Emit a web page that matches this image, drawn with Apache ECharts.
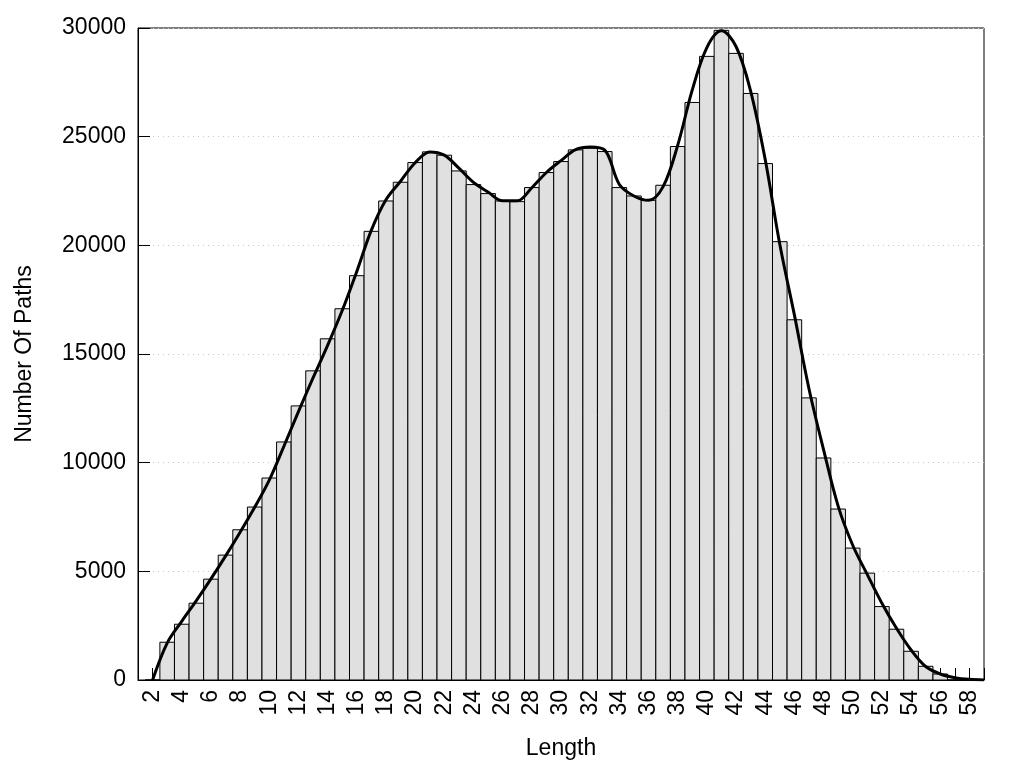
<!DOCTYPE html>
<html>
<head>
<meta charset="utf-8">
<script src="https://cdn.jsdelivr.net/npm/echarts@6/dist/echarts.min.js"></script>
<style>
  html, body { margin: 0; padding: 0; background: #fff; }
  #chart { width: 1024px; height: 768px; }
</style>
</head>
<body>
<div id="chart"></div>
<script>
// Path lengths (x) and histogram counts
const lengths = [2,3,4,5,6,7,8,9,10,11,12,13,14,15,16,17,18,19,20,21,22,23,24,25,26,27,28,29,30,
  31,32,33,34,35,36,37,38,39,40,41,42,43,44,45,46,47,48,49,50,51,52,53,54,55,56,57,58];
const counts = [0,1737,2566,3534,4640,5746,6912,7958,9294,10953,12612,14225,15699,17082,18603,20644,22041,22902,23809,
  24300,24146,23424,22795,22381,22041,22010,22658,23349,23855,24392,24468,24315,22658,22272,22072,22764,24547,26574,
  28694,29892,28832,26989,23763,20169,16575,12981,10216,7866,6069,4917,3378,2336,1322,631,276,0,0];

// Smoothed density curve, read at integer lengths
const curveX = [2,3,4,5,6,7,8,9,10,11,12,13,14,15,16,17,18,19,20,21,22,23,24,25,26,27,28,29,30,
  31,32,33,34,35,36,37,38,39,40,41,42,43,44,45,46,47,48,49,50,51,52,53,54,55,56,57,58,59];
const curveY = [0,1700,2700,3650,4650,5700,6800,7950,9200,10750,12350,13900,15400,17000,18800,20700,22100,22950,23800,
  24300,24150,23550,22900,22450,22050,22050,22650,23350,23900,24400,24520,24380,22800,22270,22070,22700,24600,27150,
  29100,29870,29150,27100,23950,20050,16800,13400,10600,8000,6200,4850,3530,2380,1380,620,276,107,30,5];

const yTicks = { min: 0, max: 30000, step: 5000 };
const xRange = { min: 1, max: 59 };

const chart = echarts.init(document.getElementById('chart'), null, { renderer: 'canvas' });
const font = 'Liberation Sans, Arial, Helvetica, sans-serif';

const barData = lengths.map((x, i) => [x, counts[i]]);
const lineData = curveX.map((x, i) => [x, curveY[i]]);

chart.setOption({
  animation: false,
  backgroundColor: '#fff',
  grid: {
    left: 138, right: 40, top: 28, bottom: 88,
    show: true, borderColor: '#000', borderWidth: 1, backgroundColor: 'transparent'
  },
  xAxis: {
    type: 'value',
    min: xRange.min, max: xRange.max, interval: 1,
    name: 'Length', nameLocation: 'middle', nameGap: 57,
    nameTextStyle: { fontSize: 23, color: '#000', fontFamily: font },
    axisLine: { show: true, lineStyle: { color: '#000', width: 1 } },
    axisTick: { show: true, inside: true, length: 12, lineStyle: { color: '#000', width: 1 } },
    axisLabel: {
      rotate: 90, fontSize: 23, color: '#000', fontFamily: font, margin: 10,
      formatter: v => (v % 2 === 0 && v >= 2 && v <= 58) ? String(v) : ''
    },
    splitLine: { show: false }
  },
  yAxis: {
    type: 'value',
    min: yTicks.min, max: yTicks.max, interval: yTicks.step,
    name: 'Number Of Paths', nameLocation: 'middle', nameGap: 102,
    nameTextStyle: { fontSize: 23, color: '#000', fontFamily: font },
    axisLine: { show: true, lineStyle: { color: '#000', width: 1 } },
    axisTick: { show: true, inside: true, length: 12, lineStyle: { color: '#000', width: 1 } },
    axisLabel: { fontSize: 23, color: '#000', fontFamily: font, margin: 12, formatter: v => String(v) },
    splitLine: { show: true, lineStyle: { color: '#c8c8c8', width: 1, type: [1, 4] } }
  },
  series: [
    {
      type: 'custom',
      data: barData,
      z: 3,
      renderItem: function (params, api) {
        const x = api.value(0), y = api.value(1);
        const p0 = api.coord([x - 0.5, y]);
        const p1 = api.coord([x + 0.5, 0]);
        return {
          type: 'rect',
          shape: { x: p0[0], y: p0[1], width: p1[0] - p0[0], height: p1[1] - p0[1] },
          style: { fill: '#e0e0e0', stroke: '#000', lineWidth: 1 }
        };
      }
    },
    {
      type: 'line',
      data: lineData,
      smooth: 0.35,
      showSymbol: false,
      symbol: 'none',
      z: 5,
      lineStyle: { color: '#000', width: 3 }
    }
  ]
});
</script>
</body>
</html>
